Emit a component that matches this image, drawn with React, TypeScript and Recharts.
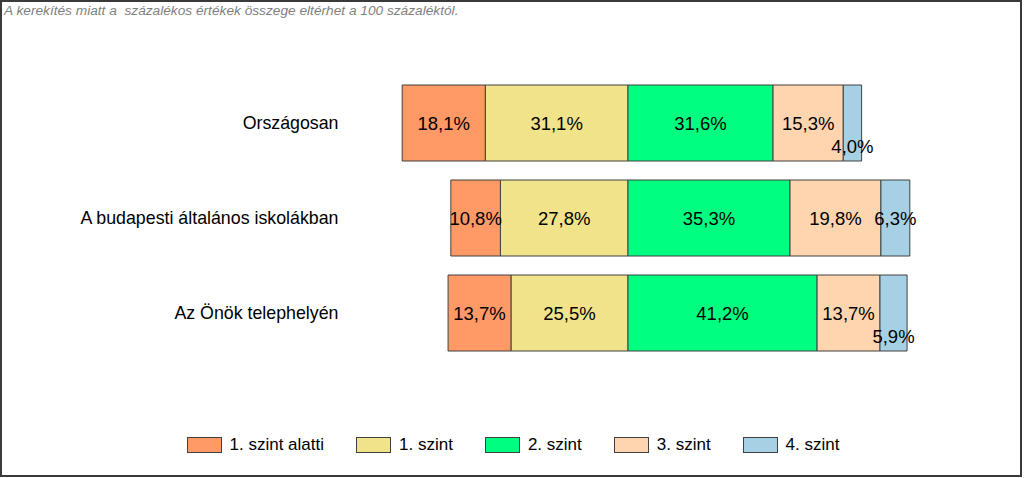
import { BarChart, Bar, XAxis, YAxis, LabelList } from "recharts";

const categories = ["Országosan", "A budapesti általános iskolákban", "Az Önök telephelyén"];
const belowLevel1 = [18.1, 10.8, 13.7];
const level1 = [31.1, 27.8, 25.5];
const level2 = [31.6, 35.3, 41.2];
const level3 = [15.3, 19.8, 13.7];
const level4 = [4.0, 6.3, 5.9];

const legendNames = ["1. szint alatti", "1. szint", "2. szint", "3. szint", "4. szint"];
const legendColors = ["#FF9966", "#F0E38A", "#00FF80", "#FFD5B0", "#A6D1E4"];

const FONT = '"Liberation Sans", Arial, sans-serif';

// negative side stacks to the left of the 1./2. szint border
const data = categories.map((name, i) => ({
    name,
    l1: -level1[i],
    below: -belowLevel1[i],
    l2: level2[i],
    l3: level3[i],
    l4: level4[i],
}));

const fmt = (v: number) => v.toFixed(1).replace(".", ",") + "%";

const makeLabel = (values: number[]) => (props: any) => {
    const { x, y, width, height, index } = props;
    const v = values[index];
    const cx = Number(x) + Number(width) / 2;
    let cy = Number(y) + Number(height) / 2;
    // narrow segments: label pushed below centre like the original
    if (v < 6) cy += 23;
    return (
        <text
            x={cx}
            y={cy}
            textAnchor="middle"
            dominantBaseline="central"
            fontSize={18.5}
            fontFamily={FONT}
            fill="#000"
        >
            {fmt(v)}
        </text>
    );
};

const series = [
    { key: "l1", values: level1, color: legendColors[1] },
    { key: "below", values: belowLevel1, color: legendColors[0] },
    { key: "l2", values: level2, color: legendColors[2] },
    { key: "l3", values: level3, color: legendColors[3] },
    { key: "l4", values: level4, color: legendColors[4] },
];

export default function App() {
    return (
        <div style={{ position: "absolute", left: 0, top: 0, width: 1024, height: 478, background: "#fff" }}>
            <BarChart
                width={1024}
                height={478}
                data={data}
                layout="vertical"
                stackOffset="sign"
                barCategoryGap="10%"
                margin={{ top: 75.5, right: 74.7, bottom: 117.5, left: 8.5 }}
            >
                <XAxis type="number" domain={[-50, 70]} hide />
                <YAxis
                    type="category"
                    dataKey="name"
                    width={390}
                    axisLine={false}
                    tickLine={false}
                    tickSize={0}
                    tickMargin={60}
                    tick={{ fontSize: 17.8, fontFamily: FONT, fill: "#000" }}
                />
                {series.map((s) => (
                    <Bar
                        key={s.key}
                        dataKey={s.key}
                        stackId="a"
                        fill={s.color}
                        stroke="#404040"
                        strokeWidth={1}
                        isAnimationActive={false}
                    >
                        <LabelList dataKey={s.key} content={makeLabel(s.values)} />
                    </Bar>
                ))}
            </BarChart>

            <div
                style={{
                    position: "absolute",
                    left: 4,
                    top: 3,
                    fontFamily: FONT,
                    fontStyle: "italic",
                    fontSize: 13.7,
                    color: "#7f7f7f",
                    whiteSpace: "pre",
                }}
            >
                A kerekítés miatt a  százalékos értékek összege eltérhet a 100 százaléktól.
            </div>

            <div
                style={{
                    position: "absolute",
                    left: 1,
                    width: 1024,
                    top: 435,
                    display: "flex",
                    justifyContent: "center",
                    gap: 32,
                    fontFamily: FONT,
                    fontSize: 17,
                    color: "#000",
                }}
            >
                {legendNames.map((n, i) => (
                    <div key={n} style={{ display: "flex", alignItems: "center", gap: 8 }}>
                        <span
                            style={{
                                display: "inline-block",
                                width: 33,
                                height: 14,
                                background: legendColors[i],
                                border: "1px solid #404040",
                            }}
                        />
                        <span style={{ lineHeight: "20px" }}>{n}</span>
                    </div>
                ))}
            </div>

            <div
                style={{
                    position: "absolute",
                    left: 0,
                    top: 0,
                    width: 1022,
                    height: 477,
                    boxSizing: "border-box",
                    border: "2px solid #3a3a3a",
                    pointerEvents: "none",
                }}
            />
        </div>
    );
}
